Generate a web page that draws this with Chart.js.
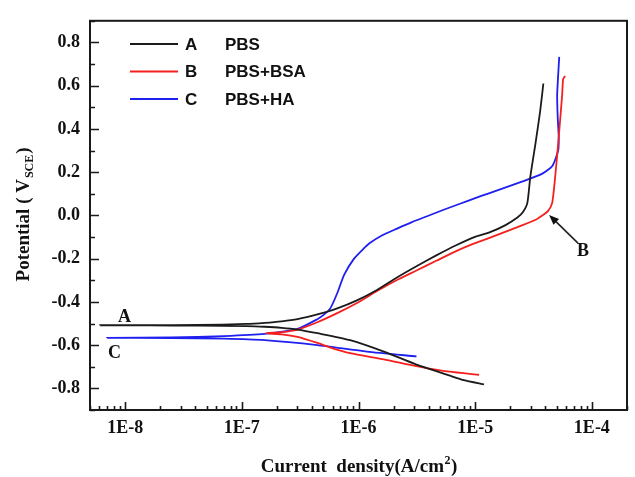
<!DOCTYPE html>
<html>
<head>
<meta charset="utf-8">
<script src="https://cdn.jsdelivr.net/npm/chart.js@4/dist/chart.umd.min.js"></script>
<style>
  html, body { margin: 0; padding: 0; background: #fff; }
</style>
</head>
<body>
<canvas id="tafel" width="635" height="477"></canvas>
<script>
// A - PBS (cathodic end -> Ecorr -> anodic end)
const aCurrent = [1.19e-5, 8.0e-6, 5.98e-6, 3.14e-6, 1.65e-6, 8.47e-7, 4.44e-7, 3.0e-7, 2.2e-7, 1.57e-7, 1.1e-7, 4.2e-8, 1.6e-8, 6.1e-9,
  1.6e-8, 4.2e-8, 1.1e-7, 1.57e-7, 2.2e-7, 3.0e-7, 4.44e-7, 6.57e-7, 9.7e-7, 1.44e-6, 2.12e-6, 3.14e-6, 4.64e-6, 6.87e-6,
  1.01e-5, 1.31e-5, 1.82e-5, 2.3e-5, 2.55e-5, 2.8e-5, 2.97e-5, 3.28e-5, 3.6e-5, 3.84e-5];
const aPotential = [-0.782, -0.762, -0.74, -0.69, -0.63, -0.577, -0.545, -0.528, -0.52, -0.515, -0.512, -0.51, -0.509, -0.508,
  -0.508, -0.507, -0.502, -0.497, -0.49, -0.48, -0.458, -0.43, -0.393, -0.345, -0.288, -0.235, -0.185, -0.138,
  -0.098, -0.08, -0.045, -0.01, 0.013, 0.058, 0.18, 0.33, 0.48, 0.61];

// B - PBS+BSA
const bCurrent = [1.08e-5, 5.98e-6, 3.14e-6, 1.65e-6, 8.47e-7, 6.0e-7, 4.44e-7, 3.0e-7, 2.2e-7, 1.6e-7,
  2.2e-7, 3.0e-7, 4.44e-7, 6.57e-7, 9.7e-7, 1.44e-6, 2.12e-6, 3.14e-6, 4.64e-6, 6.87e-6, 1.01e-5, 1.31e-5,
  2.55e-5, 3.3e-5, 3.76e-5, 4.2e-5, 4.57e-5, 4.85e-5, 5.14e-5, 5.56e-5, 5.67e-5, 5.9e-5];
const bPotential = [-0.737, -0.723, -0.697, -0.666, -0.637, -0.615, -0.59, -0.562, -0.55, -0.545,
  -0.54, -0.528, -0.494, -0.452, -0.405, -0.35, -0.3, -0.255, -0.21, -0.165, -0.127, -0.105,
  -0.045, -0.02, 0.0, 0.02, 0.058, 0.18, 0.33, 0.555, 0.63, 0.645];

// C - PBS+HA
const cCurrent = [3.14e-6, 1.18e-6, 4.44e-7, 1.57e-7, 7.0e-8, 2.5e-8, 7.0e-9,
  2.5e-8, 7.0e-8, 1.57e-7, 3.0e-7, 4.44e-7, 5.09e-7, 5.73e-7, 6.57e-7, 7.53e-7, 9.16e-7, 1.1e-6, 1.25e-6, 1.6e-6,
  2.12e-6, 2.9e-6, 3.82e-6, 5.3e-6, 7.5e-6, 1.0e-5, 1.31e-5, 2.55e-5, 3.76e-5, 4.6e-5, 5.14e-5, 5.2e-5, 5.1e-5,
  5.04e-5, 5.25e-5];
const cPotential = [-0.652, -0.63, -0.6, -0.577, -0.57, -0.567, -0.566,
  -0.564, -0.558, -0.548, -0.525, -0.48, -0.458, -0.43, -0.36, -0.275, -0.2, -0.155, -0.128, -0.092,
  -0.062, -0.03, -0.005, 0.025, 0.055, 0.08, 0.102, 0.157, 0.193, 0.23, 0.3, 0.36, 0.45,
  0.555, 0.733];

const seriesLetters = ['A', 'B', 'C'];
const seriesNames = ['PBS', 'PBS+BSA', 'PBS+HA'];
const seriesColors = ['#1b1b1b', '#f5201e', '#1f1fef'];

const xTickValues = [1e-8, 1e-7, 1e-6, 1e-5, 1e-4];
const xTickLabels = ['1E-8', '1E-7', '1E-6', '1E-5', '1E-4'];
const yTickValues = [-0.8, -0.6, -0.4, -0.2, 0.0, 0.2, 0.4, 0.6, 0.8];
const yTickLabels = ['-0.8', '-0.6', '-0.4', '-0.2', '0.0', '0.2', '0.4', '0.6', '0.8'];

// curve labels on the plot, in data coordinates
const curveTags = [
  { text: 'A', x: 9.9e-9, y: -0.472 },
  { text: 'C', x: 8.1e-9, y: -0.638 },
  { text: 'B', x: 8.4e-5, y: -0.166 }
];
const arrowFrom = { x: 7.6e-5, y: -0.128 };
const arrowTo = { x: 4.3e-5, y: 0.002 };

function pairs(xs, ys) {
  return xs.map((x, i) => ({ x: x, y: ys[i] }));
}

function findLabel(values, labels, v, tol) {
  const i = values.findIndex(t => Math.abs(t - v) <= tol(t));
  return i >= 0 ? labels[i] : '';
}

const serif = '"Liberation Serif", "Times New Roman", serif';
const sans = '"Liberation Sans", Arial, sans-serif';

const framePlugin = {
  id: 'frame',
  afterDatasetsDraw(chart) {
    const ctx = chart.ctx;
    const a = chart.chartArea;
    const xs = chart.scales.x, ys = chart.scales.y;
    ctx.save();
    ctx.strokeStyle = '#1a1a1a';
    ctx.lineWidth = 2;
    ctx.strokeRect(a.left, a.top, a.right - a.left, a.bottom - a.top);

    // inward ticks
    ctx.lineWidth = 1.6;
    ctx.beginPath();
    xs.ticks.forEach(t => {
      const px = Math.round(xs.getPixelForValue(t.value)) + 0.5;
      const len = t.label ? 8 : 4;
      ctx.moveTo(px, a.bottom);
      ctx.lineTo(px, a.bottom - len);
    });
    ys.ticks.forEach(t => {
      const py = Math.round(ys.getPixelForValue(t.value)) + 0.5;
      const len = t.label ? 9 : 5;
      ctx.moveTo(a.left, py);
      ctx.lineTo(a.left + len, py);
    });
    ctx.stroke();

    // legend
    chart.data.datasets.forEach((ds, i) => {
      const y = 44 + i * 27.5;
      ctx.strokeStyle = ds.borderColor;
      ctx.lineWidth = 2;
      ctx.beginPath();
      ctx.moveTo(130, y);
      ctx.lineTo(178, y);
      ctx.stroke();
      ctx.fillStyle = '#111';
      ctx.font = 'bold 17px ' + sans;
      ctx.textBaseline = 'middle';
      ctx.textAlign = 'left';
      ctx.fillText(seriesLetters[i], 185, y + 1);
      ctx.fillText(seriesNames[i], 225, y + 1);
    });

    // curve tags and arrow
    ctx.font = 'bold 18px ' + serif;
    ctx.textAlign = 'center';
    ctx.fillStyle = '#111';
    curveTags.forEach(t => {
      ctx.fillText(t.text, xs.getPixelForValue(t.x), ys.getPixelForValue(t.y));
    });
    const x0 = xs.getPixelForValue(arrowFrom.x), y0 = ys.getPixelForValue(arrowFrom.y);
    const x1 = xs.getPixelForValue(arrowTo.x), y1 = ys.getPixelForValue(arrowTo.y);
    const ang = Math.atan2(y1 - y0, x1 - x0);
    ctx.strokeStyle = '#222';
    ctx.lineWidth = 1.6;
    ctx.beginPath();
    ctx.moveTo(x0, y0);
    ctx.lineTo(x1 - 6 * Math.cos(ang), y1 - 6 * Math.sin(ang));
    ctx.stroke();
    ctx.beginPath();
    ctx.moveTo(x1, y1);
    ctx.lineTo(x1 - 10 * Math.cos(ang) + 4 * Math.sin(ang), y1 - 10 * Math.sin(ang) - 4 * Math.cos(ang));
    ctx.lineTo(x1 - 10 * Math.cos(ang) - 4 * Math.sin(ang), y1 - 10 * Math.sin(ang) + 4 * Math.cos(ang));
    ctx.closePath();
    ctx.fill();

    // x title with superscript
    const big = 'bold 19px ' + serif, small = 'bold 12px ' + serif;
    const xt1 = 'Current  density(A/cm', xt2 = '2', xt3 = ')';
    ctx.font = big;
    const w1 = ctx.measureText(xt1).width, w3 = ctx.measureText(xt3).width;
    ctx.font = small;
    const w2 = ctx.measureText(xt2).width;
    let sx = (a.left + a.right) / 2 - (w1 + w2 + w3) / 2;
    const by = 472;
    ctx.textAlign = 'left';
    ctx.textBaseline = 'alphabetic';
    ctx.font = big; ctx.fillText(xt1, sx, by);
    ctx.font = small; ctx.fillText(xt2, sx + w1 + 0.5, by - 8);
    ctx.font = big; ctx.fillText(xt3, sx + w1 + w2 + 1, by);

    // y title with subscript
    const yt1 = 'Potential ( V', yt2 = 'SCE', yt3 = ')';
    ctx.font = big;
    const v1 = ctx.measureText(yt1).width, v3 = ctx.measureText(yt3).width;
    ctx.font = small;
    const v2 = ctx.measureText(yt2).width;
    ctx.translate(29, (a.top + a.bottom) / 2);
    ctx.rotate(-Math.PI / 2);
    let tx = -(v1 + v2 + v3) / 2;
    ctx.font = big; ctx.fillText(yt1, tx, 0);
    ctx.font = small; ctx.fillText(yt2, tx + v1 + 1, 4);
    ctx.font = big; ctx.fillText(yt3, tx + v1 + v2 + 2, 0);
    ctx.restore();
  }
};

new Chart(document.getElementById('tafel').getContext('2d'), {
  type: 'scatter',
  data: {
    datasets: [
      { label: seriesNames[0], data: pairs(aCurrent, aPotential) },
      { label: seriesNames[1], data: pairs(bCurrent, bPotential) },
      { label: seriesNames[2], data: pairs(cCurrent, cPotential) }
    ].map((ds, i) => Object.assign(ds, {
      showLine: true,
      borderColor: seriesColors[i],
      backgroundColor: seriesColors[i],
      borderWidth: 1.8,
      pointRadius: 0,
      tension: 0.2
    }))
  },
  options: {
    responsive: false,
    animation: false,
    layout: { padding: { left: 0, right: 5, top: 10, bottom: 0 } },
    plugins: { legend: { display: false }, tooltip: { enabled: false } },
    scales: {
      x: {
        type: 'logarithmic',
        min: 5e-9,
        max: 2e-4,
        grid: { display: false, drawTicks: false },
        border: { display: false },
        afterBuildTicks: scale => {
          const list = [];
          for (let e = -9; e <= -4; e++) {
            for (let m = 1; m <= 9; m++) {
              const v = m * Math.pow(10, e);
              if (v >= 4.99e-9 && v <= 2.01e-4) list.push({ value: v });
            }
          }
          scale.ticks = list;
        },
        afterFit: scale => { scale.height = 67; },
        ticks: {
          autoSkip: false,
          maxRotation: 0,
          padding: 8,
          color: '#111',
          font: { family: serif, size: 18, weight: 'bold' },
          callback: v => findLabel(xTickValues, xTickLabels, v, t => t * 1e-6)
        }
      },
      y: {
        min: -0.9,
        max: 0.9,
        grid: { display: false, drawTicks: false },
        border: { display: false },
        afterFit: scale => { scale.width = 90; },
        ticks: {
          stepSize: 0.1,
          autoSkip: false,
          padding: 10,
          color: '#111',
          font: { family: serif, size: 18, weight: 'bold' },
          callback: v => findLabel(yTickValues, yTickLabels, v, () => 1e-6)
        }
      }
    }
  },
  plugins: [framePlugin]
});
</script>
</body>
</html>
